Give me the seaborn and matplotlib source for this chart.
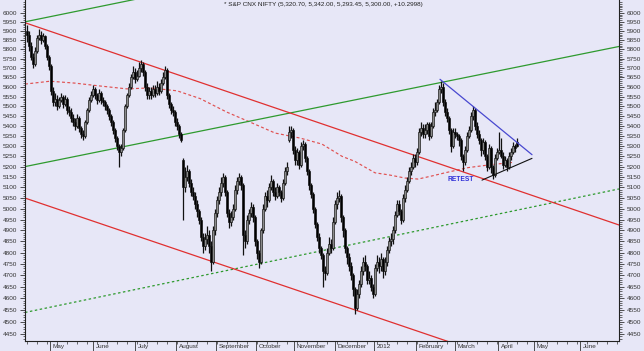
import numpy as np
import pandas as pd
import matplotlib
matplotlib.use("Agg")
import matplotlib.pyplot as plt
import matplotlib.ticker as mticker
from matplotlib.transforms import ScaledTranslation
import seaborn as sns

# ---------------- data ----------------
closes = [
    5880, 5820, 5760, 5720, 5790, 5860, 5880, 5850, 5870, 5820, 5760, 5710,
    5580, 5520, 5540, 5500, 5530, 5550, 5510, 5540, 5480, 5470, 5440, 5420,
    5400, 5440, 5390, 5360, 5350, 5420, 5480, 5530, 5560, 5590, 5560, 5530,
    5570, 5530, 5520, 5500, 5480, 5450, 5420, 5380, 5340, 5300, 5270, 5290,
    5380, 5500, 5560, 5600, 5650, 5680, 5640, 5660, 5700, 5720, 5680, 5600,
    5560, 5580, 5560, 5590, 5570, 5600, 5580, 5620, 5650, 5690, 5560, 5510,
    5480, 5470, 5420, 5400, 5360, 5330, 5100, 5150, 5180, 5120, 5080, 5060,
    5020, 4990, 4950, 4870, 4830, 4860, 4880, 4830, 4760, 4900, 4980, 5040,
    5080, 5120, 5150, 5080, 4980, 4940, 4960, 5000, 5090, 5130, 5150, 5110,
    4880, 4850, 4950, 4980, 5010, 4960, 4850, 4800, 4760, 4900, 5000, 5060,
    5040, 5100, 5130, 5080, 5060, 5100, 5080, 5050, 5120, 5180, 5200, 5370,
    5380, 5280, 5230, 5270, 5210, 5300, 5310, 5240, 5180, 5110, 5070, 5000,
    4930, 4870, 4820, 4790, 4720, 4710, 4800, 4840, 4820, 4940, 5020, 5050,
    5060, 4960, 4900, 4820, 4780, 4740, 4700, 4640, 4560, 4620, 4660, 4720,
    4760, 4740, 4680, 4690, 4650, 4620, 4730, 4760, 4740, 4770, 4720, 4760,
    4810, 4850, 4860, 4900, 4970, 5020, 4990, 4950, 5050, 5090, 5130, 5180,
    5200, 5240, 5220, 5270, 5370, 5390, 5360, 5380, 5410, 5350, 5400, 5470,
    5480, 5520, 5590, 5600, 5520, 5470, 5440, 5380, 5300, 5370, 5360, 5350,
    5330, 5250, 5220, 5280, 5350, 5380, 5450, 5480, 5400, 5360, 5330, 5280,
    5320, 5250, 5200, 5290, 5200, 5160, 5240, 5270, 5280, 5250, 5210, 5230,
    5200, 5250, 5270, 5300, 5290, 5300,
]
highs = [
    5930, 5900, 5840, 5780, 5810, 5880, 5910, 5900, 5890, 5880, 5830, 5770,
    5720, 5600, 5570, 5560, 5550, 5570, 5560, 5560, 5550, 5500, 5490, 5460,
    5440, 5460, 5450, 5400, 5380, 5430, 5490, 5550, 5580, 5610, 5600, 5570,
    5590, 5580, 5550, 5530, 5510, 5490, 5460, 5430, 5390, 5350, 5310, 5310,
    5390, 5510, 5570, 5620, 5670, 5710, 5700, 5690, 5730, 5740, 5730, 5690,
    5620, 5600, 5600, 5610, 5610, 5630, 5620, 5640, 5680, 5710, 5700, 5570,
    5520, 5500, 5480, 5440, 5410, 5370, 5240, 5200, 5210, 5190, 5140, 5100,
    5080, 5040, 5000, 4960, 4890, 4890, 4920, 4900, 4850, 4920, 5000, 5060,
    5100, 5150, 5170, 5160, 5090, 5000, 4990, 5020, 5110, 5150, 5170, 5160,
    5120, 4900, 4970, 5000, 5030, 5020, 4970, 4860, 4810, 4910, 5020, 5080,
    5090, 5120, 5160, 5140, 5100, 5120, 5110, 5090, 5140, 5200, 5220, 5400,
    5400, 5390, 5300, 5290, 5280, 5320, 5330, 5320, 5250, 5190, 5120, 5080,
    5010, 4940, 4890, 4830, 4800, 4740, 4820, 4870, 4860, 4960, 5040, 5080,
    5090, 5070, 4970, 4910, 4830, 4800, 4760, 4710, 4650, 4640, 4680, 4740,
    4780, 4790, 4750, 4720, 4700, 4660, 4750, 4790, 4780, 4800, 4780, 4780,
    4830, 4870, 4890, 4920, 4990, 5040, 5040, 5000, 5070, 5110, 5150, 5200,
    5220, 5260, 5260, 5290, 5390, 5420, 5410, 5410, 5420, 5420, 5420, 5490,
    5520, 5540, 5610, 5630, 5620, 5540, 5490, 5450, 5390, 5390, 5390, 5370,
    5360, 5340, 5260, 5300, 5370, 5400, 5470, 5500, 5490, 5420, 5380, 5340,
    5340, 5330, 5260, 5310, 5300, 5210, 5260, 5290, 5370, 5340, 5270, 5250,
    5240, 5270, 5290, 5320, 5310, 5342,
]
lows = [
    5840, 5790, 5740, 5700, 5710, 5780, 5850, 5830, 5840, 5800, 5740, 5690,
    5560, 5500, 5500, 5480, 5490, 5520, 5490, 5500, 5460, 5450, 5420, 5400,
    5380, 5390, 5370, 5340, 5330, 5340, 5410, 5470, 5520, 5550, 5540, 5510,
    5520, 5510, 5500, 5480, 5460, 5430, 5400, 5360, 5320, 5280, 5200, 5250,
    5280, 5370, 5490, 5550, 5590, 5640, 5620, 5630, 5650, 5680, 5660, 5580,
    5540, 5540, 5540, 5550, 5550, 5560, 5560, 5570, 5610, 5640, 5540, 5490,
    5460, 5450, 5400, 5380, 5340, 5320, 4950, 5080, 5130, 5100, 5060, 5040,
    5000, 4960, 4930, 4850, 4800, 4810, 4840, 4800, 4720, 4750, 4880, 4960,
    5020, 5060, 5100, 5060, 4960, 4910, 4920, 4950, 4990, 5070, 5110, 5090,
    4790, 4820, 4840, 4930, 4960, 4940, 4830, 4770, 4730, 4750, 4890, 4990,
    5010, 5030, 5090, 5060, 5040, 5050, 5060, 5030, 5040, 5110, 5160, 5320,
    5340, 5260, 5210, 5210, 5190, 5200, 5280, 5220, 5160, 5090, 5050, 4980,
    4910, 4850, 4800, 4770, 4650, 4680, 4700, 4790, 4800, 4810, 4930, 5000,
    5030, 4940, 4870, 4800, 4750, 4720, 4680, 4610, 4535, 4550, 4600, 4650,
    4700, 4720, 4660, 4660, 4630, 4600, 4610, 4720, 4710, 4720, 4690, 4700,
    4740, 4800, 4830, 4840, 4890, 4960, 4970, 4930, 4940, 5030, 5080, 5120,
    5160, 5190, 5200, 5210, 5260, 5350, 5340, 5340, 5360, 5330, 5340, 5390,
    5450, 5470, 5510, 5570, 5500, 5450, 5420, 5360, 5270, 5290, 5340, 5330,
    5300, 5230, 5180, 5210, 5270, 5340, 5370, 5430, 5380, 5340, 5310, 5250,
    5260, 5230, 5180, 5190, 5170, 5140, 5150, 5230, 5260, 5240, 5190, 5200,
    5180, 5190, 5230, 5260, 5270, 5293.45,
]
first_open = 5900
gap_opens = {78: 5230, 131: 5330, 245: 5320.70}

month_pos = [11.5, 33, 54, 74.5, 94.5, 114.5, 133.5, 154, 173.5, 194.5,
             214, 235.5, 253.5, 276.5]
month_labels = ["May", "June", "July", "August", "September", "October",
                "November", "December", "2012", "February", "March", "April",
                "May", "June"]

ma_x = [-1, 11.5, 24, 36.5, 50, 61.5, 75, 86.5, 100, 111.5, 124, 136.5,
        147.5, 157.5, 164, 174, 181, 189, 195.5, 202.5, 209, 220.5, 232.5,
        242.5]
ma_y = [5615, 5630, 5620, 5605, 5590, 5595, 5580, 5540, 5470, 5420, 5365,
        5340, 5310, 5250, 5225, 5170, 5160, 5145, 5140, 5155, 5170, 5195,
        5210, 5220]

green_upper_x = [-1, 296]
green_upper_y = [5950, 6660]
green_lower_x = [-1, 296]
green_lower_y = [5200, 5815]
green_dotted_x = [-1, 296]
green_dotted_y = [4540, 5093]
red_upper_x = [-1, 296]
red_upper_y = [5945, 4925]
red_lower_x = [-1, 296]
red_lower_y = [5050, 4187]
blue_x = [206.5, 252.5]
blue_y = [5640, 5258]
black_x = [227.5, 252.5]
black_y = [5135, 5240]

title_text = "* S&P CNX NIFTY (5,320.70, 5,342.00, 5,293.45, 5,300.00, +10.2998)"
retest_text = "RETEST"
retest_pos = (210.5, 5140)

y_major = list(range(4450, 6001, 50))

# ---------------- styling ----------------
BG = "#e7e7f7"
sns.set_theme(style="ticks", rc={
    "axes.facecolor": BG, "figure.facecolor": BG,
    "axes.edgecolor": "#222222", "axes.linewidth": 0.8,
})
plt.rcParams["font.family"] = ["Liberation Sans", "DejaVu Sans"]

fig = plt.figure(figsize=(6.44, 3.51), dpi=100)
ax = fig.add_axes([25 / 644, 10 / 351, 594 / 644, 341 / 351])
ax.set_yscale("log")

# candles
n = len(closes)
idx = np.arange(n)
opens = [first_open] + closes[:-1]
for k, v in gap_opens.items():
    opens[k] = v
df = pd.DataFrame({"i": idx, "open": opens, "high": highs,
                   "low": lows, "close": closes})
df["up"] = df["close"] >= df["open"]
ax.vlines(df["i"], df["low"], df["high"], color="#111111", lw=0.9, zorder=3)
bottoms = np.minimum(df["open"], df["close"])
heights = np.maximum(np.abs(df["close"] - df["open"]), 4)
face = np.where(df["up"], "#8a8a8a", "#000000")
ax.bar(df["i"], heights, bottom=bottoms, width=1.45, color=face,
       edgecolor="#111111", linewidth=0.45, zorder=4)

# moving average
ma_df = pd.DataFrame({"x": ma_x, "y": ma_y})
sns.lineplot(data=ma_df, x="x", y="y", ax=ax, color="#e05050", lw=0.85,
             linestyle=(0, (2.5, 2)), zorder=2)

# trend lines
ax.plot(green_upper_x, green_upper_y, color="#2e9a2e", lw=0.9, zorder=2)
ax.plot(green_lower_x, green_lower_y, color="#2e9a2e", lw=0.9, zorder=2)
ax.plot(green_dotted_x, green_dotted_y, color="#2e9a2e", lw=0.9,
        linestyle=(0, (2, 2)), zorder=2)
ax.plot(red_upper_x, red_upper_y, color="#e03030", lw=0.9, zorder=2)
ax.plot(red_lower_x, red_lower_y, color="#e03030", lw=0.9, zorder=2)
ax.plot(blue_x, blue_y, color="#4848d0", lw=0.9, zorder=5)
ax.plot(black_x, black_y, color="#111111", lw=0.8, zorder=5)

ax.text(retest_pos[0], retest_pos[1], retest_text, color="#3030d8",
        fontsize=4.8, fontweight="bold", ha="left", va="center", zorder=6)

# axes
ax.set_xlim(-1, 296)
ax.set_ylim(4421, 6072)
ax.set_xlabel("")
ax.set_ylabel("")
ax.spines["top"].set_visible(False)

ax.yaxis.set_major_locator(mticker.FixedLocator(y_major))
ax.yaxis.set_major_formatter(mticker.FixedFormatter([str(v) for v in y_major]))
ax.yaxis.set_minor_locator(mticker.FixedLocator(list(range(4430, 6070, 10))))
ax.yaxis.set_minor_formatter(mticker.NullFormatter())
ax.tick_params(axis="y", which="both", left=True, right=True,
               labelleft=True, labelright=True, direction="out",
               labelsize=4.6, labelcolor="#333333", color="#333333", pad=2)
ax.tick_params(axis="y", which="major", length=3.5, width=0.6)
ax.tick_params(axis="y", which="minor", length=1.8, width=0.5)
ax.spines["right"].set_visible(True)

ax.xaxis.set_major_locator(mticker.FixedLocator(month_pos))
ax.xaxis.set_major_formatter(mticker.FixedFormatter(month_labels))
ax.xaxis.set_minor_locator(mticker.FixedLocator(list(np.arange(0, 296, 5))))
ax.tick_params(axis="x", which="major", length=7, width=0.6, pad=-5.0,
               labelsize=4.6, labelcolor="#333333", color="#333333")
ax.tick_params(axis="x", which="minor", length=2.1, width=0.5, color="#333333")
off = ScaledTranslation(2 / 72, 0, fig.dpi_scale_trans)
for lab in ax.get_xticklabels():
    lab.set_horizontalalignment("left")
    lab.set_transform(lab.get_transform() + off)

fig.text(323 / 644, 1 - 4.5 / 351, title_text, ha="center", va="center",
         fontsize=4.6, color="#222222")

fig.savefig("out.png", dpi=100, facecolor=BG)
